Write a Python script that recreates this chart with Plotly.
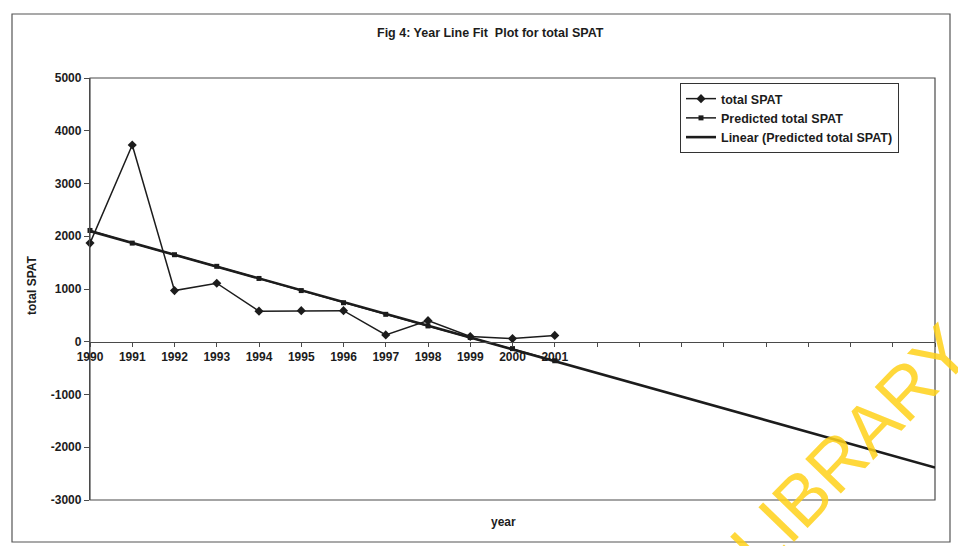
import numpy as np
import plotly.graph_objects as go

# ---- data -------------------------------------------------------------
years = [1990, 1991, 1992, 1993, 1994, 1995, 1996, 1997, 1998, 1999, 2000, 2001]
total_spat = [1870, 3730, 970, 1110, 580, 590, 590, 130, 400, 100, 60, 120]
predicted_spat = [2110, 1870, 1650, 1430, 1200, 970, 740, 520, 300, 80, -130, -360]

# category axis runs on past the data so the trend can be projected forward
axis_years = list(range(1990, 2011))
axis_labels = [str(y) if y <= 2001 else "" for y in axis_years]
y_ticks = [5000, 4000, 3000, 2000, 1000, 0, -1000, -2000, -3000]
y_labels = [str(v) for v in y_ticks]  # plain hyphen for negatives

# linear trendline fitted to the predicted series, extended to the axis end
coef = np.polyfit(years, predicted_spat, 1)
trend_x = [axis_years[0], axis_years[-1]]
trend_y = list(np.polyval(coef, trend_x))

# ---- layout geometry (pixels) ----------------------------------------
W, H = 958, 546
ML, MR, MT, MB = 90, 23, 78, 46
PW, PH = W - ML - MR, H - MT - MB


def px(x):
    return (x - ML) / PW


def py(y):
    return 1 - (y - MT) / PH


FONT = "Liberation Sans, Arial, sans-serif"
INK = "#1c1c1c"
FRAME = "#4a4a4a"
YMIN, YMAX = -3000, 5000


def bold(size):
    return dict(family=FONT, size=size, color=INK, weight="bold")


fig = go.Figure()

fig.add_trace(go.Scatter(
    x=years, y=total_spat, name="total SPAT", mode="lines+markers",
    line=dict(color=INK, width=1.5),
    marker=dict(symbol="diamond", size=7, color=INK),
    cliponaxis=False,
))
fig.add_trace(go.Scatter(
    x=years, y=predicted_spat, name="Predicted total SPAT", mode="lines+markers",
    line=dict(color=INK, width=1.5),
    marker=dict(symbol="square", size=5, color=INK),
    cliponaxis=False,
))
fig.add_trace(go.Scatter(
    x=trend_x, y=trend_y, name="Linear (Predicted total SPAT)", mode="lines",
    line=dict(color=INK, width=2.6),
    cliponaxis=False,
))

fig.update_layout(
    width=W, height=H,
    margin=dict(l=ML, r=MR, t=MT, b=MB),
    paper_bgcolor="white", plot_bgcolor="white",
    font=bold(12),
    showlegend=True,
    legend=dict(
        x=px(680), y=py(83), xanchor="left", yanchor="top",
        bordercolor="#333333", borderwidth=1, bgcolor="white",
        font=bold(12.5),
        itemwidth=30, tracegroupgap=0,
    ),
    xaxis=dict(
        range=[axis_years[0], axis_years[-1]],
        tickmode="array", tickvals=axis_years, ticktext=axis_labels,
        anchor="free", position=(0 - YMIN) / (YMAX - YMIN),
        showline=True, linecolor=FRAME, linewidth=1,
        ticks="outside", ticklen=4, tickcolor=FRAME,
        showgrid=False, zeroline=False,
        tickfont=bold(12),
    ),
    yaxis=dict(
        range=[YMIN, YMAX], tickmode="array", tickvals=y_ticks, ticktext=y_labels,
        showline=True, linecolor=FRAME, linewidth=1.3,
        ticks="outside", ticklen=5, tickcolor=FRAME,
        showgrid=False, zeroline=False,
        tickfont=bold(12),
    ),
)

# plot-area frame and outer chart border
fig.add_shape(type="rect", xref="paper", yref="paper", x0=0, x1=1, y0=0, y1=1,
              line=dict(color=FRAME, width=1.2), layer="below")
fig.add_shape(type="rect", xref="paper", yref="paper",
              x0=px(12), x1=px(950), y0=py(542), y1=py(14),
              line=dict(color="#555555", width=1.2), layer="below")

# titles
fig.add_annotation(text="Fig 4: Year Line Fit  Plot for total SPAT",
                   xref="paper", yref="paper", x=px(490), y=py(33),
                   xanchor="center", yanchor="middle",
                   showarrow=False, font=bold(12.5))
fig.add_annotation(text="year", xref="paper", yref="paper",
                   x=px(503), y=py(522), xanchor="center", yanchor="middle",
                   showarrow=False, font=bold(12))
fig.add_annotation(text="total SPAT", xref="paper", yref="paper",
                   x=px(32), y=py(285), xanchor="center", yanchor="middle",
                   showarrow=False, textangle=-90, font=bold(12))

# library watermark running off the lower-right corner
fig.add_annotation(text="LIBRARY", xref="paper", yref="paper",
                   x=px(850), y=py(448), xanchor="center", yanchor="middle",
                   showarrow=False, textangle=-46, opacity=0.85,
                   font=dict(family=FONT, size=72, color="#FFD21A",
                             weight="normal"))

fig.write_html("out.html")
